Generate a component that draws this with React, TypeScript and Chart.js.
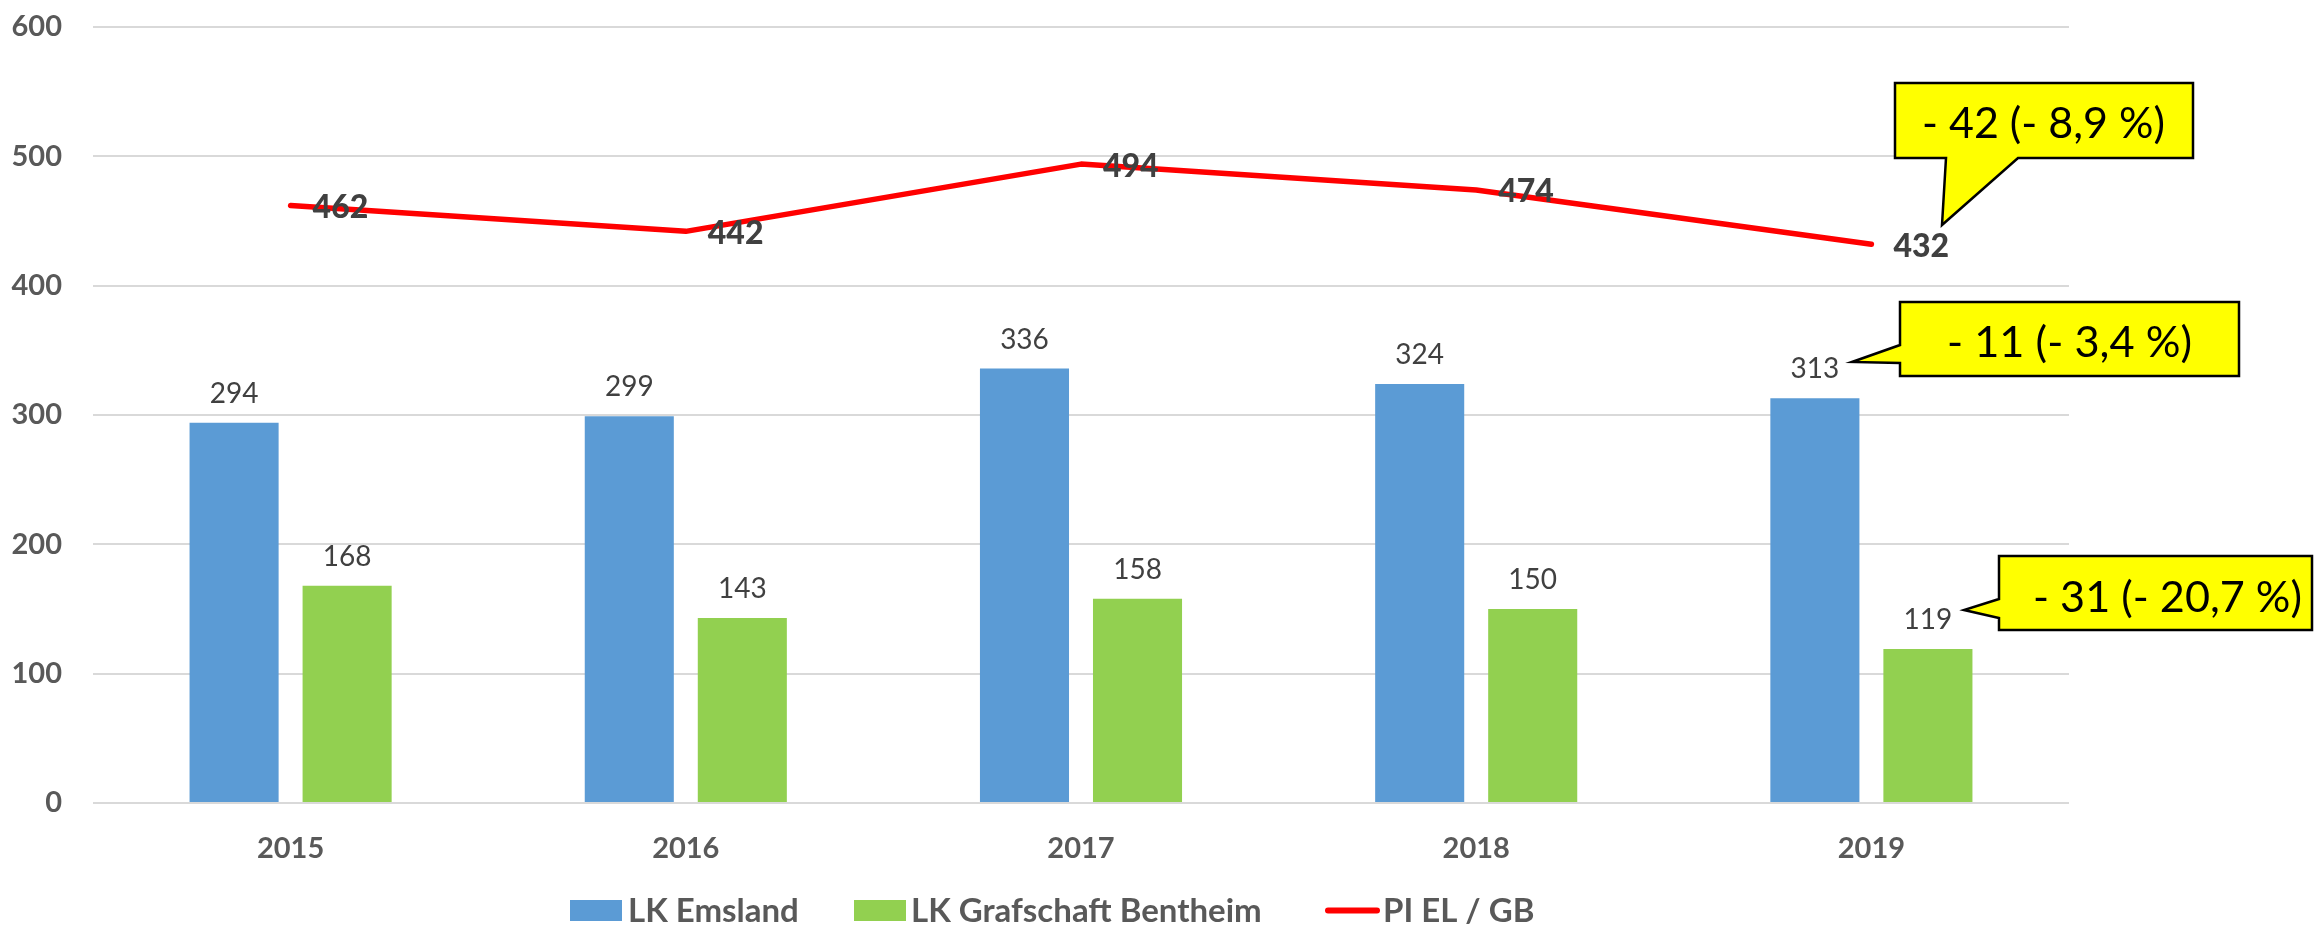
import React, { useEffect, useRef } from "react";
import { Chart, registerables } from "chart.js";

Chart.register(...registerables);

// ---- data ----
const categories = ["2015", "2016", "2017", "2018", "2019"];
const emslandValues = [294, 299, 336, 324, 313];
const bentheimValues = [168, 143, 158, 150, 119];
const piValues = [462, 442, 494, 474, 432];
const yTickValues = [0, 100, 200, 300, 400, 500, 600];
const seriesNames = ["LK Emsland", "LK Grafschaft Bentheim", "PI EL / GB"];
const calloutTexts = ["- 42 (- 8,9 %)", "- 11 (- 3,4 %)", "- 31 (- 20,7 %)"];

const FONT = "Lato, 'Open Sans', sans-serif";
const BLUE = "#5B9BD5";
const GREEN = "#92D050";
const RED = "#FF0000";
const AXIS_TEXT = "#595959";
const LABEL_TEXT = "#404040";

function drawCapCentered(
  ctx: CanvasRenderingContext2D,
  text: string,
  x: number,
  cy: number,
  size: number,
  align: CanvasTextAlign
) {
  ctx.textAlign = align;
  ctx.textBaseline = "alphabetic";
  ctx.fillText(text, x, cy + size * 0.36);
}

const valueLabelsPlugin = {
  id: "valueLabels",
  afterDatasetsDraw(chart: any) {
    const ctx: CanvasRenderingContext2D = chart.ctx;
    chart.data.datasets.forEach((ds: any, i: number) => {
      const meta = chart.getDatasetMeta(i);
      meta.data.forEach((el: any, j: number) => {
        const v = ds.data[j];
        ctx.save();
        ctx.fillStyle = LABEL_TEXT;
        if (ds.type === "line") {
          ctx.font = `900 32px ${FONT}`;
          drawCapCentered(ctx, String(v), el.x + 22, el.y + 1, 32, "left");
        } else {
          ctx.font = `28px ${FONT}`;
          drawCapCentered(ctx, String(v), el.x, el.y - 30, 28, "center");
        }
        ctx.restore();
      });
    });
  },
};

function fitFont(ctx: CanvasRenderingContext2D, text: string, width: number, weight: string) {
  ctx.font = `${weight} 100px ${FONT}`;
  const w = ctx.measureText(text).width;
  return (100 * width) / w;
}

const calloutsPlugin = {
  id: "callouts",
  afterDraw(chart: any) {
    const ctx: CanvasRenderingContext2D = chart.ctx;
    const shapes: number[][][] = [
      [[1895, 83], [2193, 83], [2193, 158], [2018, 158], [1942, 225], [1946, 158], [1895, 158]],
      [[1900, 302], [2239, 302], [2239, 376], [1900, 376], [1900, 363], [1852, 362], [1900, 345]],
      [[1999, 556], [2312, 556], [2312, 630], [1999, 630], [1999, 618], [1964, 610], [1999, 599]],
    ];
    const textPos = [
      { x: 1922, w: 243, base: 138 },
      { x: 1947, w: 245, base: 357 },
      { x: 2033, w: 269, base: 612 },
    ];
    shapes.forEach((pts, k) => {
      ctx.save();
      ctx.beginPath();
      pts.forEach((p, idx) => (idx === 0 ? ctx.moveTo(p[0], p[1]) : ctx.lineTo(p[0], p[1])));
      ctx.closePath();
      ctx.fillStyle = "#FFFF00";
      ctx.fill();
      ctx.lineWidth = 2.5;
      ctx.strokeStyle = "#000000";
      ctx.lineJoin = "miter";
      ctx.stroke();
      const t = calloutTexts[k];
      const tp = textPos[k];
      const size = fitFont(ctx, t, tp.w, "normal");
      ctx.font = `normal ${size}px ${FONT}`;
      ctx.fillStyle = "#000000";
      ctx.textAlign = "left";
      ctx.textBaseline = "alphabetic";
      ctx.fillText(t, tp.x, tp.base);
      ctx.restore();
    });
  },
};

const legendPlugin = {
  id: "customLegend",
  afterDraw(chart: any) {
    const ctx: CanvasRenderingContext2D = chart.ctx;
    const size = 33;
    ctx.save();
    ctx.font = `bold ${size}px ${FONT}`;
    const colors = [BLUE, GREEN, RED];
    const itemStart = [570, 854, 1325];
    const markerW = [52, 52, 55];
    const markerGap = [6, 5, 3];
    const top = 900;
    const h = 21;
    const cy = top + h / 2;
    seriesNames.forEach((name, i) => {
      const x = itemStart[i];
      if (i < 2) {
        ctx.fillStyle = colors[i];
        ctx.fillRect(x, top, markerW[i], h);
      } else {
        ctx.strokeStyle = colors[i];
        ctx.lineWidth = 6;
        ctx.lineCap = "round";
        ctx.beginPath();
        ctx.moveTo(x + 3, cy);
        ctx.lineTo(x + markerW[i] - 3, cy);
        ctx.stroke();
      }
      ctx.fillStyle = AXIS_TEXT;
      ctx.textAlign = "left";
      ctx.textBaseline = "alphabetic";
      ctx.fillText(name, x + markerW[i] + markerGap[i], top + h + 1);
    });
    ctx.restore();
  },
};

export default function App() {
  const canvasRef = useRef<HTMLCanvasElement>(null);

  useEffect(() => {
    document.body.style.margin = "0";
    const canvas = canvasRef.current;
    if (!canvas) return;
    const chart = new Chart(canvas, {
      type: "bar",
      data: {
        labels: categories,
        datasets: [
          {
            type: "line",
            label: seriesNames[2],
            data: piValues,
            borderColor: RED,
            backgroundColor: RED,
            borderWidth: 5.5,
            pointRadius: 0,
            pointHoverRadius: 0,
            tension: 0,
            order: 0,
            borderCapStyle: "round",
            borderJoinStyle: "round",
          } as any,
          {
            type: "bar",
            label: seriesNames[0],
            data: emslandValues,
            backgroundColor: BLUE,
            order: 1,
            categoryPercentage: 0.572,
            barPercentage: 0.788,
          },
          {
            type: "bar",
            label: seriesNames[1],
            data: bentheimValues,
            backgroundColor: GREEN,
            order: 1,
            categoryPercentage: 0.572,
            barPercentage: 0.788,
          },
        ],
      },
      options: {
        responsive: false,
        animation: false,
        events: [],
        layout: { padding: { left: 0, right: 251, top: 27, bottom: 0 } },
        plugins: {
          legend: { display: false },
          tooltip: { enabled: false },
        },
        scales: {
          x: {
            grid: { display: false },
            border: { display: false },
            ticks: {
              font: { family: FONT, size: 29, weight: "bold" },
              color: AXIS_TEXT,
              padding: 20,
            },
            afterFit: (s: any) => {
              s.height = 124;
            },
          },
          y: {
            min: 0,
            max: 600,
            grid: { color: "#D9D9D9", lineWidth: 2, drawTicks: false },
            border: { display: false },
            ticks: {
              font: { family: FONT, size: 29, weight: "bold" },
              color: AXIS_TEXT,
              padding: 31,
            },
            afterBuildTicks: (s: any) => {
              s.ticks = yTickValues.map((v) => ({ value: v }));
            },
            afterFit: (s: any) => {
              s.width = 93;
              s.paddingTop = 0;
              s.paddingBottom = 0;
            },
          },
        },
      },
      plugins: [valueLabelsPlugin, calloutsPlugin, legendPlugin],
    });
    return () => chart.destroy();
  }, []);

  return (
    <div style={{ width: 2320, height: 927, background: "#FFFFFF" }}>
      <canvas ref={canvasRef} width={2320} height={927} style={{ display: "block" }} />
    </div>
  );
}
